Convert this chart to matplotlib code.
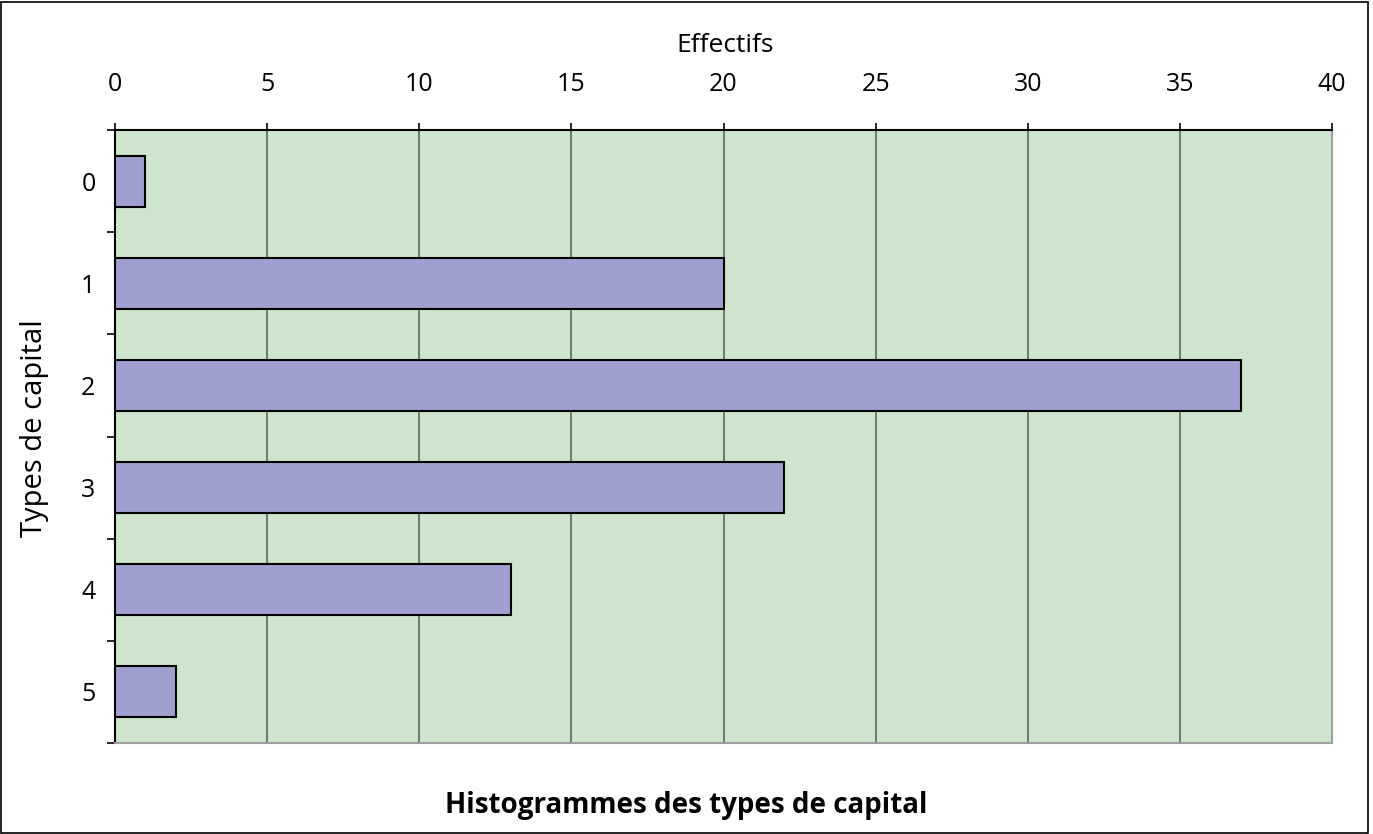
import matplotlib.pyplot as plt
import numpy as np
from matplotlib.patches import Rectangle

plt.rcParams['font.family'] = ['Open Sans', 'DejaVu Sans']

# Data
categories = ['0', '1', '2', '3', '4', '5']
effectifs = [1, 20, 37, 22, 13, 2]
x_ticks = [0, 5, 10, 15, 20, 25, 30, 35, 40]

W, H = 1373, 834
fig = plt.figure(figsize=(W / 100, H / 100), dpi=100)
ax = fig.add_axes([115 / W, 1 - 743 / H, (1332 - 115) / W, (743 - 130) / H])

y_pos = np.arange(len(categories))
ax.barh(y_pos, effectifs, height=0.5, color='#9fa0d0', edgecolor='black',
        linewidth=1.5, zorder=3)

ax.set_facecolor('#cce5cc')
ax.set_xlim(0, 40)
ax.set_ylim(len(categories) - 0.5, -0.5)

# x axis on top
ax.xaxis.set_ticks_position('top')
ax.set_xticks(x_ticks)
ax.set_xticklabels([str(t) for t in x_ticks], fontsize=18)
ax.tick_params(axis='x', direction='out', length=5, width=1.2, pad=19)

# y ticks at category boundaries, labels centred
ax.set_yticks(np.arange(-0.5, len(categories), 1.0))
ax.set_yticklabels([])
ax.set_yticks(y_pos, minor=True)
ax.set_yticklabels(categories, minor=True, fontsize=18)
ax.tick_params(axis='y', which='major', direction='out', length=6, width=1.2)
ax.tick_params(axis='y', which='minor', length=0, pad=14)

ax.grid(axis='x', color='#5a6a5a', linewidth=1.2, zorder=1)

for side in ['top', 'left']:
    ax.spines[side].set_linewidth(1.5)
    ax.spines[side].set_color('black')
for side in ['bottom', 'right']:
    ax.spines[side].set_linewidth(1.5)
    ax.spines[side].set_color('#a0a0a0')

fig.text(725 / W, 1 - 45 / H, 'Effectifs', ha='center', va='center', fontsize=19)
fig.text(35 / W, 1 - 428 / H, 'Types de capital', ha='center', va='center',
         rotation=90, fontsize=21)
fig.text(686 / W, 1 - 805 / H, 'Histogrammes des types de capital', ha='center',
         va='center', fontsize=20, fontweight='bold')

fig.patches.append(Rectangle((1 / W, 1 / H), 1367 / W, 831 / H, transform=fig.transFigure,
                             fill=False, edgecolor='black', linewidth=1.2))

plt.savefig('out.png', dpi=100)
